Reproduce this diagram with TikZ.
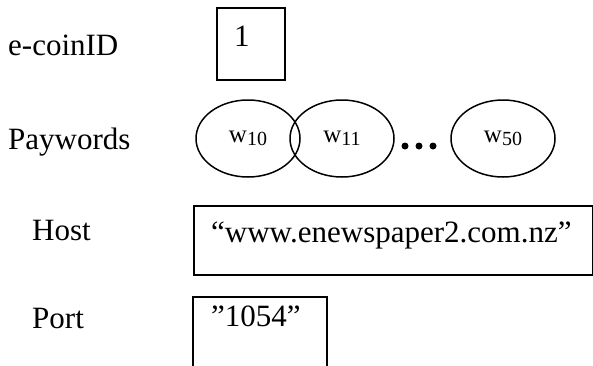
\documentclass[tikz,border=0pt]{standalone}
\usepackage{fontspec}
\setmainfont{Liberation Serif}
\usetikzlibrary{positioning,shapes.geometric}

\newcommand{\payw}[1]{w\raisebox{-3pt}{\fontsize{20}{20}\selectfont #1}}

\begin{document}
\begin{tikzpicture}[x=1pt,y=-1pt,
    lbl/.style={font=\fontsize{31}{36}\selectfont, inner sep=0pt, anchor=base west},
    field/.style={draw, line width=1.5pt, inner sep=0pt, anchor=north west},
    payword/.style={draw, ellipse, line width=1.5pt, minimum width=104pt,
        minimum height=77pt, inner sep=0pt, font=\fontsize{25}{28}\selectfont},
    dot/.style={circle, fill, inner sep=0pt, minimum size=7pt}]
  \useasboundingbox (0,0) rectangle (593,365);

  % field names
  \node[lbl] (coinid) at (8,55) {e-coinID};
  \node[lbl] (paywords) at (8,149) {Paywords};
  \node[lbl] (host) at (32,240) {Host};
  \node[lbl] (port) at (32,328) {Port};

  % e-coin id
  \node[field, minimum width=68pt, minimum height=72pt] (idbox) at (216,7) {};
  \node[lbl] (idval) at (234,46) {1};

  % paywords
  \node[payword] (w10) at (248,138.5) {\payw{10}};
  \node[payword] (w11) at (342,138.5) {\payw{11}};
  \node[payword] (w50) at (503,138.5) {\payw{50}};
  \foreach \x [count=\i] in {405,419,433}
    \node[dot] (dot\i) at (\x,146) {};

  % host
  \node[field, minimum width=399pt, minimum height=69pt] (hostbox) at (193,205) {};
  \node[lbl] (hostval) at (211,242) {“www.enewspaper2.com.nz”};

  % port (box runs off the bottom)
  \coordinate (portsw) at (193,366);
  \coordinate (portne) at (327,297);
  \draw[line width=1.5pt] (portsw) |- (portne) -- (portne |- portsw);
  \node[lbl] (portval) at (211,326) {”1054”};
\end{tikzpicture}
\end{document}
